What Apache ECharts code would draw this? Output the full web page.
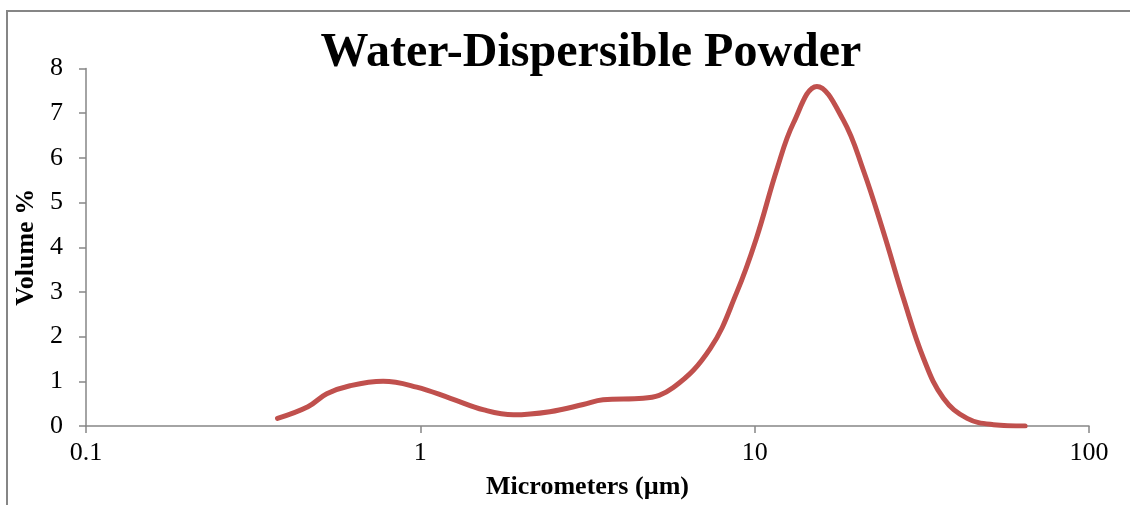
<!DOCTYPE html>
<html>
<head>
<meta charset="utf-8">
<script src="https://cdn.jsdelivr.net/npm/echarts@6/dist/echarts.min.js"></script>
<style>
html,body{margin:0;padding:0;background:#fff;}
#chart{width:1130px;height:505px;}
</style>
</head>
<body>
<div id="chart"></div>
<script>
var titleText = 'Water-Dispersible Powder';
var xAxisName = 'Micrometers (\u00b5m)';
var yAxisName = 'Volume %';
var xTickValues = [0.1, 1, 10, 100];
var xTickLabels = ['0.1', '1', '10', '100'];
var sizes = [0.374, 0.461, 0.525, 0.616, 0.774, 0.975, 1.23, 1.55, 1.90, 2.44, 3.07, 3.52, 4.64, 5.71, 7.36, 8.84, 10.1, 11.65, 13.06, 15.35, 18.4, 21.1, 24.3, 27.9, 32.0, 36.7, 43.2, 51.8, 64.4];
var volumes = [0.17, 0.43, 0.72, 0.90, 1.00, 0.87, 0.62, 0.36, 0.25, 0.32, 0.48, 0.59, 0.62, 0.86, 1.73, 2.99, 4.18, 5.74, 6.78, 7.6, 6.85, 5.74, 4.33, 2.84, 1.51, 0.62, 0.17, 0.03, 0.0];

var chart = echarts.init(document.getElementById('chart'), null, {renderer: 'canvas'});
var serif = "'Liberation Serif', 'Times New Roman', serif";
var axisGrey = '#868686';
var pts = sizes.map(function (s, i) { return [s, volumes[i]]; });

chart.setOption({
  animation: false,
  backgroundColor: '#fff',
  title: {
    text: titleText,
    left: 586,
    top: 25,
    textAlign: 'center',
    textStyle: {fontFamily: serif, fontWeight: 'bold', fontSize: 48, color: '#000'}
  },
  graphic: [{
    type: 'rect',
    shape: {x: 7, y: 11, width: 1300, height: 700},
    style: {fill: 'none', stroke: axisGrey, lineWidth: 2},
    silent: true
  }],
  grid: {left: 86, right: 41, top: 68.5, bottom: 77.3, containLabel: false},
  xAxis: {
    type: 'log',
    logBase: 10,
    min: 0.1,
    max: 100,
    name: xAxisName,
    nameLocation: 'middle',
    nameGap: 48,
    nameTextStyle: {fontFamily: serif, fontWeight: 'bold', fontSize: 26, color: '#000'},
    axisLine: {show: true, lineStyle: {color: axisGrey, width: 1.5}},
    axisTick: {show: true, inside: false, length: 7, lineStyle: {color: axisGrey, width: 1.5}},
    splitLine: {show: false},
    minorTick: {show: false},
    axisLabel: {
      fontFamily: serif, fontSize: 26, color: '#000', margin: 14,
      formatter: function (v) {
        for (var i = 0; i < xTickValues.length; i++) {
          if (Math.abs(v - xTickValues[i]) < 1e-9 * xTickValues[i]) return xTickLabels[i];
        }
        return '';
      }
    }
  },
  yAxis: {
    type: 'value',
    min: 0,
    max: 8,
    interval: 1,
    name: yAxisName,
    nameLocation: 'middle',
    nameGap: 46,
    nameRotate: 90,
    nameTextStyle: {fontFamily: serif, fontWeight: 'bold', fontSize: 26, color: '#000'},
    axisLine: {show: true, lineStyle: {color: axisGrey, width: 1.5}},
    axisTick: {show: true, inside: false, length: 7, lineStyle: {color: axisGrey, width: 1.5}},
    splitLine: {show: false},
    axisLabel: {fontFamily: serif, fontSize: 26, color: '#000', margin: 23}
  },
  series: [{
    type: 'line',
    data: pts,
    smooth: 0.4,
    showSymbol: false,
    symbol: 'none',
    lineStyle: {color: '#C0504D', width: 5, cap: 'round'},
    itemStyle: {color: '#C0504D'}
  }]
});
</script>
</body>
</html>
